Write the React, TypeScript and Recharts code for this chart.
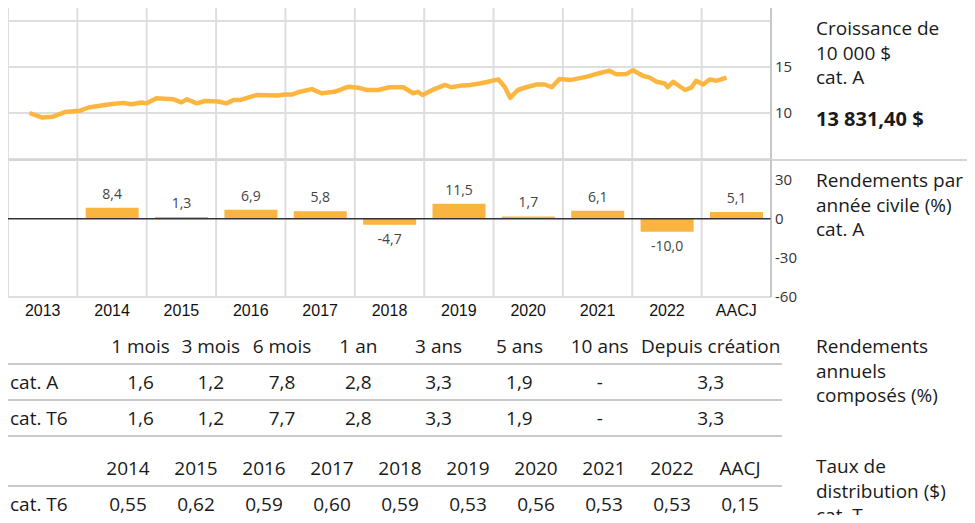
import React from "react";
import {
  LineChart,
  Line,
  BarChart,
  Bar,
  XAxis,
  YAxis,
  CartesianGrid,
  ReferenceLine,
  LabelList,
} from "recharts";

// growth of 10 000 $ (in thousands)
const growthDates = [
  2013.31, 2013.49, 2013.65, 2013.82, 2014.04, 2014.16, 2014.47, 2014.66, 2014.78, 2014.93,
  2015.0, 2015.14, 2015.38, 2015.5, 2015.58, 2015.72, 2015.84, 2016.03, 2016.15, 2016.25,
  2016.34, 2016.58, 2016.89, 2016.99, 2017.09, 2017.18, 2017.38, 2017.52, 2017.71, 2017.9,
  2018.05, 2018.17, 2018.34, 2018.5, 2018.7, 2018.84, 2018.91, 2018.98, 2019.13, 2019.3,
  2019.39, 2019.51, 2019.66, 2019.8, 2019.92, 2020.07, 2020.16, 2020.24, 2020.35, 2020.47,
  2020.62, 2020.74, 2020.84, 2020.95, 2021.12, 2021.35, 2021.51, 2021.67, 2021.77, 2021.92,
  2022.01, 2022.15, 2022.25, 2022.35, 2022.47, 2022.51, 2022.59, 2022.76, 2022.85, 2022.92,
  2023.02, 2023.12, 2023.21, 2023.36,
];
const growthValues = [
  10.0, 9.5, 9.6, 10.1, 10.25, 10.6, 10.95, 11.1, 10.95, 11.15,
  11.05, 11.6, 11.5, 11.15, 11.5, 11.05, 11.3, 11.25, 11.05, 11.4,
  11.4, 11.95, 11.9, 12.0, 12.0, 12.25, 12.6, 12.15, 12.3, 12.85,
  12.75, 12.5, 12.5, 12.8, 12.8, 12.15, 12.3, 11.95, 12.55, 13.05,
  12.8, 12.95, 13.05, 13.2, 13.4, 13.65, 12.85, 11.65, 12.5, 12.8,
  13.1, 13.1, 12.8, 13.7, 13.6, 13.95, 14.3, 14.6, 14.2, 14.25,
  14.65, 14.05, 13.85, 13.4, 13.2, 12.8, 13.4, 12.5, 12.75, 13.5,
  13.1, 13.65, 13.5, 13.85,
];
const yearTicks = [2013, 2014, 2015, 2016, 2017, 2018, 2019, 2020, 2021, 2022, 2023, 2024];

// calendar-year returns
const years = ["2013", "2014", "2015", "2016", "2017", "2018", "2019", "2020", "2021", "2022", "AACJ"];
const yearReturns = [null, 8.4, 1.3, 6.9, 5.8, -4.7, 11.5, 1.7, 6.1, -10.0, 5.1];

// compound returns table
const periods = ["1 mois", "3 mois", "6 mois", "1 an", "3 ans", "5 ans", "10 ans", "Depuis création"];
const periodWidths = [70, 70, 72, 80, 80, 81, 79, 142];
const compoundA = ["1,6", "1,2", "7,8", "2,8", "3,3", "1,9", "-", "3,3"];
const compoundT6 = ["1,6", "1,2", "7,7", "2,8", "3,3", "1,9", "-", "3,3"];

// distributions table
const distYears = ["2014", "2015", "2016", "2017", "2018", "2019", "2020", "2021", "2022", "AACJ"];
const distT6 = ["0,55", "0,62", "0,59", "0,60", "0,59", "0,53", "0,56", "0,53", "0,53", "0,15"];

const growthData = growthDates.map((t, i) => ({ t, v: growthValues[i] }));
const returnData = years.map((y, i) => ({ year: y, idx: i + 0.5, v: yearReturns[i] }));

const ORANGE = "#FCB640";
const GRID = "#dedede";
const TEXT = "#1a1a1a";
const FONT = "'Open Sans', sans-serif";

const rowLine = "2px solid #c9c9c9";

function SideText({ top, lines, bold }: { top: number; lines: string[]; bold?: string }) {
  return (
    <div style={{ position: "absolute", left: 816, top, fontSize: 19, lineHeight: "24.5px", color: TEXT }}>
      {lines.map((l) => (
        <div key={l}>{l}</div>
      ))}
      {bold && <div style={{ fontWeight: 700, fontSize: 20, marginTop: 17 }}>{bold}</div>}
    </div>
  );
}

export default function App() {
  const cell: React.CSSProperties = { padding: 0, textAlign: "center", height: 34, whiteSpace: "nowrap" };
  return (
    <div
      style={{
        position: "relative",
        margin: -8,
        width: 975,
        height: 523,
        overflow: "hidden",
        fontFamily: FONT,
        color: TEXT,
        background: "#fff",
      }}
    >
      <div style={{ position: "absolute", left: 0, top: 0 }}>
        <LineChart width={975} height={165} data={growthData} margin={{ top: 5, right: 164, bottom: 6, left: 8 }}>
          <CartesianGrid stroke={GRID} strokeWidth={2} />
          <XAxis dataKey="t" type="number" domain={[2013, 2024]} ticks={yearTicks} hide />
          <YAxis
            orientation="right"
            width={40}
            domain={[5, 21.74]}
            ticks={[5, 10, 15, 20]}
            tickFormatter={(v: number) => (v === 10 || v === 15 ? String(v) : "")}
            tickLine={false}
            tickSize={2}
            tickMargin={2}
            axisLine={{ stroke: "#b0b0b0" }}
            tick={{ fill: "#333", fontSize: 15, fontFamily: FONT }}
            allowDataOverflow
          />
          <Line
            type="linear"
            dataKey="v"
            stroke={ORANGE}
            strokeWidth={4.5}
            strokeLinejoin="round"
            dot={false}
            isAnimationActive={false}
          />
        </LineChart>
      </div>

      <div style={{ position: "absolute", left: 8, top: 159, width: 962, height: 2, background: "#d4d4d4" }} />

      <div style={{ position: "absolute", left: 0, top: 160 }}>
        <BarChart
          width={975}
          height={162}
          data={returnData}
          margin={{ top: 0, right: 164, bottom: 0, left: 8 }}
          barCategoryGap="12%"
        >
          <CartesianGrid xAxisId="grid" horizontal={false} stroke={GRID} strokeWidth={2} />
          <XAxis
            dataKey="year"
            height={25}
            tickLine={false}
            axisLine={{ stroke: GRID, strokeWidth: 2 }}
            tick={{ fill: "#111", fontSize: 16, fontFamily: "'Liberation Sans Narrow', 'Liberation Sans', Arial, sans-serif" }}
            interval={0}
          />
          <XAxis
            xAxisId="grid"
            dataKey="idx"
            type="number"
            domain={[0, 11]}
            ticks={[0, 1, 2, 3, 4, 5, 6, 7, 8, 9, 10, 11]}
            hide
          />
          <YAxis
            orientation="right"
            width={40}
            domain={[-60, 45]}
            ticks={[-60, -30, 0, 30]}
            tickLine={false}
            tickSize={2}
            tickMargin={2}
            axisLine={{ stroke: "#b0b0b0" }}
            tick={{ fill: "#333", fontSize: 15, fontFamily: FONT }}
          />
          <ReferenceLine y={0} stroke="#333" strokeWidth={1.5} />
          <Bar dataKey="v" fill="#F9B53F" isAnimationActive={false}>
            <LabelList
              dataKey="v"
              position="top"
              offset={9}
              fill="#444"
              fontSize={14}
              fontFamily={FONT}
              formatter={(v: any) => (v == null ? "" : Number(v).toFixed(1).replace(".", ","))}
            />
          </Bar>
        </BarChart>
      </div>

      <SideText top={16} lines={["Croissance de", "10 000 $", "cat. A"]} bold="13 831,40 $" />
      <SideText top={168} lines={["Rendements par", "année civile (%)", "cat. A"]} />
      <SideText top={334} lines={["Rendements", "annuels", "composés (%)"]} />
      <SideText top={454} lines={["Taux de", "distribution ($)", "cat. T"]} />

      <table
        style={{
          position: "absolute",
          left: 0,
          top: 329,
          borderCollapse: "collapse",
          fontSize: 19,
          tableLayout: "fixed",
          width: 782,
        }}
      >
        <colgroup>
          <col style={{ width: 105 }} />
          {periodWidths.map((w, i) => (
            <col key={i} style={{ width: w }} />
          ))}
        </colgroup>
        <tbody>
          <tr style={{ borderBottom: rowLine }}>
            <td style={cell} />
            {periods.map((p) => (
              <td key={p} style={cell}>{p}</td>
            ))}
          </tr>
          <tr style={{ borderBottom: rowLine }}>
            <td style={{ ...cell, textAlign: "left", paddingLeft: 10 }}>cat. A</td>
            {compoundA.map((v, i) => (
              <td key={i} style={cell}>{v}</td>
            ))}
          </tr>
          <tr style={{ borderBottom: rowLine }}>
            <td style={{ ...cell, textAlign: "left", paddingLeft: 10 }}>cat. T6</td>
            {compoundT6.map((v, i) => (
              <td key={i} style={cell}>{v}</td>
            ))}
          </tr>
        </tbody>
      </table>

      <table
        style={{
          position: "absolute",
          left: 0,
          top: 451,
          borderCollapse: "collapse",
          fontSize: 19,
          tableLayout: "fixed",
          width: 782,
        }}
      >
        <colgroup>
          <col style={{ width: 94 }} />
          {distYears.map((y) => (
            <col key={y} style={{ width: 68 }} />
          ))}
          <col style={{ width: 8 }} />
        </colgroup>
        <tbody>
          <tr style={{ borderBottom: rowLine }}>
            <td style={cell} />
            {distYears.map((y) => (
              <td key={y} style={cell}>{y}</td>
            ))}
            <td style={cell} />
          </tr>
          <tr style={{ borderBottom: rowLine }}>
            <td style={{ ...cell, textAlign: "left", paddingLeft: 10 }}>cat. T6</td>
            {distT6.map((v, i) => (
              <td key={i} style={cell}>{v}</td>
            ))}
            <td style={cell} />
          </tr>
        </tbody>
      </table>
    </div>
  );
}
